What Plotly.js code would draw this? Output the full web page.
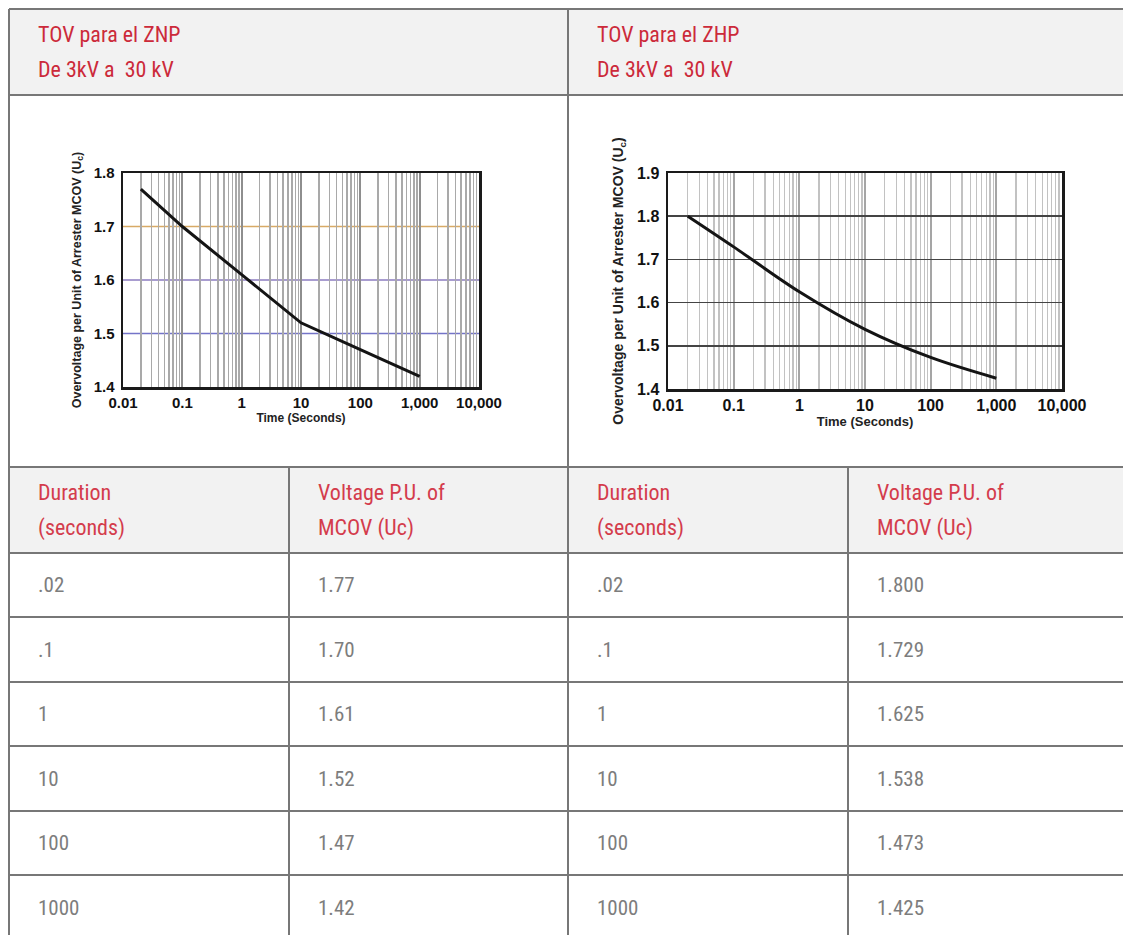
<!DOCTYPE html>
<html>
<head>
<meta charset="utf-8">
<script src="https://cdn.plot.ly/plotly-3.0.1.min.js"></script>
<style>
  html, body { margin: 0; padding: 0; background: #ffffff; overflow: hidden; }
  #chart { width: 1123px; height: 935px; }
</style>
</head>
<body>
<div id="chart"></div>
<script>
// ---------------- data ----------------
const headerTitles = ["TOV para el ZNP", "TOV para el ZHP"];
const headerSubtitles = ["De 3kV a\u00A0 30 kV", "De 3kV a\u00A0 30 kV"];
const columnHeadLine1 = ["Duration", "Voltage P.U. of", "Duration", "Voltage P.U. of"];
const columnHeadLine2 = ["(seconds)", "MCOV (Uc)", "(seconds)", "MCOV (Uc)"];
const durationSeconds = [0.02, 0.1, 1, 10, 100, 1000];
const znpVoltagePU = [1.77, 1.70, 1.61, 1.52, 1.47, 1.42];
const zhpVoltagePU = [1.800, 1.729, 1.625, 1.538, 1.473, 1.425];
const timeTickVals = [0.01, 0.1, 1, 10, 100, 1000, 10000];
const timeTickText = ["0.01", "0.1", "1", "10", "100", "1,000", "10,000"];
const znpYTicks = [1.4, 1.5, 1.6, 1.7, 1.8];
const zhpYTicks = [1.4, 1.5, 1.6, 1.7, 1.8, 1.9];
const znpColouredLevels = [1.5, 1.6, 1.7];
const xAxisTitle = "Time (Seconds)";
const yAxisTitle = "Overvoltage per Unit of Arrester MCOV (U<sub>c</sub>)";

// ---------------- geometry / style ----------------
const W = 1123, H = 935;
const px = x => x / W;
const py = y => 1 - y / H;
const rowLines = [9, 95, 467, 553, 617, 682, 746, 811, 875];
const tableBottom = 940;
const colLines = [9, 289, 568, 848];
const textPad = 27;
const borderColor = "#777777";
const fillGray = "#f2f2f2";
const redText = "#cc2a3a";
const redSub = "#d43c4c";
const grayText = "#7d7d7d";
const textFont = "'Liberation Sans Narrow', 'Roboto Condensed', 'Arial Narrow', 'DejaVu Sans Condensed', Roboto, sans-serif";
const chartFont = "'Liberation Sans', Arial, Helvetica, sans-serif";
const levelColors = ["#7474c8", "#8c7cc0", "#d8aa66"];

const shapes = [];
// header fills
shapes.push({type: "rect", xref: "paper", yref: "paper", x0: px(colLines[0]), x1: 1.01,
  y0: py(rowLines[0]), y1: py(rowLines[1]), fillcolor: fillGray, line: {width: 0}, layer: "below"});
shapes.push({type: "rect", xref: "paper", yref: "paper", x0: px(colLines[0]), x1: 1.01,
  y0: py(rowLines[2]), y1: py(rowLines[3]), fillcolor: fillGray, line: {width: 0}, layer: "below"});
// horizontal borders
rowLines.forEach(y => shapes.push({type: "line", xref: "paper", yref: "paper",
  x0: px(colLines[0]), x1: 1.01, y0: py(y), y1: py(y), line: {color: borderColor, width: 2}}));
// vertical borders
[colLines[0], colLines[2]].forEach(x => shapes.push({type: "line", xref: "paper", yref: "paper",
  x0: px(x), x1: px(x), y0: py(rowLines[0]), y1: py(tableBottom + 10), line: {color: borderColor, width: 2}}));
[colLines[1], colLines[3]].forEach(x => shapes.push({type: "line", xref: "paper", yref: "paper",
  x0: px(x), x1: px(x), y0: py(rowLines[2]), y1: py(tableBottom + 10), line: {color: borderColor, width: 2}}));
// coloured horizontal grid lines of the ZNP chart
znpColouredLevels.forEach((lv, i) => shapes.push({type: "line", xref: "x domain", yref: "y",
  x0: 0, x1: 1, y0: lv, y1: lv, layer: "below", line: {color: levelColors[i], width: 1.5}}));

const annotations = [];
function addText(text, x, y, color, size, weight) {
  annotations.push({text: text, xref: "paper", yref: "paper", x: px(x), y: py(y),
    xanchor: "left", yanchor: "middle", showarrow: false,
    font: {family: textFont, size: size, color: color, weight: weight}});
}
// header row
headerTitles.forEach((t, i) => {
  const x = colLines[i * 2] + textPad;
  addText(t, x, 34, redText, 22, 400);
  addText(headerSubtitles[i], x, 70, redText, 22, 400);
});
// column headings
columnHeadLine1.forEach((t, i) => {
  addText(t, colLines[i] + textPad, 492, redSub, 22, 400);
  addText(columnHeadLine2[i], colLines[i] + textPad, 528, redSub, 22, 400);
});
// data cells
const rowEdges = rowLines.slice(3).concat([tableBottom]);
const fmtDuration = v => String(v).replace(/^0\./, ".");
durationSeconds.forEach((d, r) => {
  const yc = (rowEdges[r] + rowEdges[r + 1]) / 2;
  const cells = [fmtDuration(d), znpVoltagePU[r].toFixed(2), fmtDuration(d), zhpVoltagePU[r].toFixed(3)];
  cells.forEach((c, k) => addText(c, colLines[k] + textPad, yc, grayText, 21, 400));
});

const traces = [
  {type: "scatter", mode: "lines", x: durationSeconds, y: znpVoltagePU, xaxis: "x", yaxis: "y",
   line: {color: "#141414", width: 3}, hoverinfo: "skip"},
  {type: "scatter", mode: "lines", x: durationSeconds, y: zhpVoltagePU, xaxis: "x2", yaxis: "y2",
   line: {color: "#141414", width: 3, shape: "spline", smoothing: 1}, hoverinfo: "skip"}
];

function xAxis(domain, anchor, size, titleSize, majorGrid, minorGrid, minorWidth) {
  return {type: "log", range: [-2, 4], domain: domain, anchor: anchor,
    showline: true, mirror: true, linecolor: "#1a1a1a", linewidth: 2.5,
    tickmode: "array", tickvals: timeTickVals, ticktext: timeTickText, ticks: "",
    tickfont: {family: chartFont, size: size, color: "#111", weight: "bold"},
    showgrid: true, gridcolor: majorGrid, gridwidth: 2,
    minor: {dtick: "D1", showgrid: true, gridcolor: minorGrid, gridwidth: minorWidth, ticks: ""},
    zeroline: false, fixedrange: true,
    title: {text: xAxisTitle, standoff: 4, font: {family: chartFont, size: titleSize, color: "#222", weight: "bold"}}};
}
function yAxis(domain, anchor, range, ticks, size, titleSize, grid, gridColor, standoff) {
  return {range: range, domain: domain, anchor: anchor,
    showline: true, mirror: true, linecolor: "#1a1a1a", linewidth: 2.5,
    tickmode: "array", tickvals: ticks, ticktext: ticks.map(v => v.toFixed(1)), ticks: "",
    ticklabelstandoff: 3,
    tickfont: {family: chartFont, size: size, color: "#111", weight: "bold"},
    showgrid: grid, gridcolor: gridColor, gridwidth: 1.5, zeroline: false, fixedrange: true,
    title: {text: yAxisTitle, standoff: standoff, font: {family: chartFont, size: titleSize, color: "#222", weight: "bold"}}};
}

const layout = {
  width: W, height: H,
  margin: {l: 0, r: 0, t: 0, b: 0},
  paper_bgcolor: "#ffffff", plot_bgcolor: "#ffffff",
  showlegend: false, hovermode: false,
  xaxis: xAxis([px(123), px(479)], "y", 15, 12, "#8e8e8e", "#a9a9a9", 1.5),
  yaxis: yAxis([py(387), py(173)], "x", [1.4, 1.8], znpYTicks, 15, 12.5, false, "#888", 10),
  xaxis2: xAxis([px(668), px(1062)], "y2", 16, 13, "#a5a5a5", "#c2c2c2", 1.2),
  yaxis2: yAxis([py(389), py(173)], "x2", [1.4, 1.9], zhpYTicks, 16, 14, true, "#444444", 10),
  shapes: shapes,
  annotations: annotations
};

Plotly.newPlot("chart", traces, layout, {displayModeBar: false, staticPlot: true});
</script>
</body>
</html>
